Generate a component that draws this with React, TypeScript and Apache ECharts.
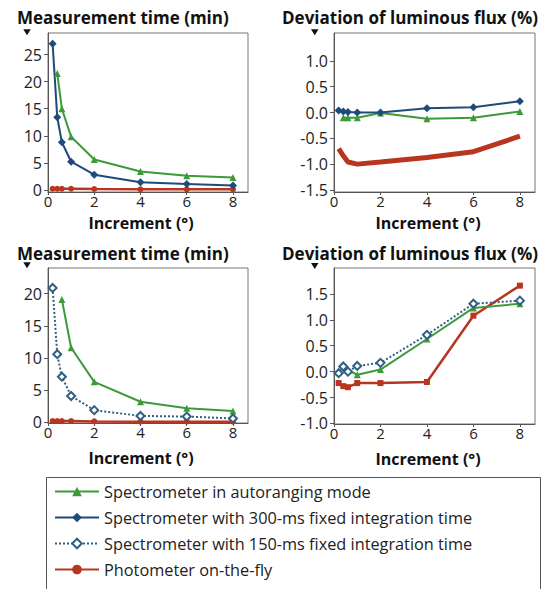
import React, { useEffect, useRef } from "react";
import * as echarts from "echarts";

// ---- data ----
const seriesNames = [
  "Spectrometer in autoranging mode",
  "Spectrometer with 300-ms fixed integration time",
  "Spectrometer with 150-ms fixed integration time",
  "Photometer on-the-fly",
];

// top-left: measurement time (min)
const tlAuto = [[0.4, 21.5], [0.6, 15.0], [1, 9.8], [2, 5.6], [4, 3.4], [6, 2.6], [8, 2.3]];
const tl300 = [[0.2, 27.0], [0.4, 13.4], [0.6, 8.8], [1, 5.2], [2, 2.8], [4, 1.4], [6, 1.1], [8, 0.8]];
const tlPhoto = [[0.2, 0.2], [0.4, 0.2], [0.6, 0.2], [1, 0.2], [2, 0.15], [4, 0.1], [6, 0.1], [8, 0.1]];

// top-right: deviation of luminous flux (%)
const trAuto = [[0.4, -0.1], [0.6, -0.1], [1, -0.1], [2, -0.01], [4, -0.12], [6, -0.1], [8, 0.02]];
const tr300 = [[0.2, 0.04], [0.4, 0.02], [0.6, 0.01], [1, 0.0], [2, 0.0], [4, 0.08], [6, 0.1], [8, 0.22]];
const trPhoto = [[0.2, -0.7], [0.4, -0.84], [0.6, -0.96], [1, -1.0], [2, -0.96], [4, -0.87], [6, -0.76], [8, -0.46]];

// bottom-left: measurement time (min)
const blAuto = [[0.6, 19.1], [1, 11.6], [2, 6.3], [4, 3.2], [6, 2.2], [8, 1.75]];
const bl150 = [[0.2, 20.9], [0.4, 10.6], [0.6, 7.1], [1, 4.1], [2, 1.9], [4, 1.0], [6, 0.9], [8, 0.6]];
const blPhoto = [[0.2, 0.2], [0.4, 0.2], [0.6, 0.2], [1, 0.2], [2, 0.15], [4, 0.1], [6, 0.1], [8, 0.1]];

// bottom-right: deviation of luminous flux (%)
const brAuto = [[0.6, 0.03], [1, -0.06], [2, 0.04], [4, 0.63], [6, 1.23], [8, 1.31]];
const br150 = [[0.2, -0.03], [0.4, 0.1], [0.6, 0.0], [1, 0.11], [2, 0.17], [4, 0.71], [6, 1.31], [8, 1.37]];
const brPhoto = [[0.2, -0.22], [0.4, -0.28], [0.6, -0.3], [1, -0.22], [2, -0.22], [4, -0.2], [6, 1.08], [8, 1.66]];

// tick labels
const xTicks = [0, 2, 4, 6, 8];
const timeTicksTop = [0, 5, 10, 15, 20, 25];
const devTicksTop = [-1.5, -1.0, -0.5, 0.0, 0.5, 1.0];
const timeTicksBottom = [0, 5, 10, 15, 20];
const devTicksBottom = [-1.0, -0.5, 0.0, 0.5, 1.0, 1.5];

const yTitleTime = "Measurement time (min)";
const yTitleDev = "Deviation of luminous flux (%)";
const xTitle = "Increment (°)";

const FONT = "'Open Sans', 'Noto Sans', sans-serif";
const GREEN = "#3d9a3a";
const BLUE = "#1f4b7a";
const DOT = "#2f5f82";
const RED = "#b8361f";
const AXIS = "#555";

export default function App() {
  const ref = useRef<HTMLDivElement>(null);
  useEffect(() => {
    if (!ref.current) return;
    const chart = echarts.init(ref.current, null, { renderer: "svg" });

    const grids = [
      { left: 48, top: 33, width: 200, height: 159 },
      { left: 334, top: 33, width: 201, height: 159 },
      { left: 48, top: 268, width: 200, height: 155 },
      { left: 334, top: 268, width: 201, height: 156 },
    ].map((g) => ({ ...g, show: true, borderColor: "#777", borderWidth: 1, backgroundColor: "transparent" }));

    const xAxis = [0, 1, 2, 3].map((i) => ({
      type: "value",
      gridIndex: i,
      min: 0,
      max: 8.65,
      axisLine: { show: true, onZero: false, lineStyle: { color: AXIS, width: 1 } },
      axisTick: { show: true, customValues: xTicks, length: 3, lineStyle: { color: AXIS } },
      axisLabel: {
        customValues: xTicks,
        fontSize: 15,
        color: "#222",
        fontFamily: FONT,
        margin: 1,
        lineHeight: 15,
        formatter: (v: number) => String(v),
      },
      splitLine: { show: false },
    }));

    const yDefs = [
      { min: -0.4, max: 29, ticks: timeTicksTop, dec: 0 },
      { min: -1.54, max: 1.54, ticks: devTicksTop, dec: 1 },
      { min: -0.1, max: 24, ticks: timeTicksBottom, dec: 0 },
      { min: -1.01, max: 2.0, ticks: devTicksBottom, dec: 1 },
    ];
    const yAxis = yDefs.map((d, i) => ({
      type: "value",
      gridIndex: i,
      min: d.min,
      max: d.max,
      axisLine: { show: true, onZero: false, lineStyle: { color: AXIS, width: 1 } },
      axisTick: { show: true, customValues: d.ticks, length: 4, lineStyle: { color: AXIS } },
      axisLabel: {
        customValues: d.ticks,
        fontSize: 16,
        color: "#222",
        fontFamily: FONT,
        margin: 6,
        formatter: (v: number) => v.toFixed(d.dec),
      },
      splitLine: { show: false },
    }));

    const mk = (name: string, idx: number, data: number[][], kind: string, extra: any = {}) => {
      const base: any = {
        name,
        type: "line",
        xAxisIndex: idx,
        yAxisIndex: idx,
        data,
        smooth: false,
        z: 3,
      };
      if (kind === "auto") {
        Object.assign(base, {
          color: GREEN,
          symbol: "triangle",
          symbolSize: 7,
          lineStyle: { color: GREEN, width: 2 },
          itemStyle: { color: GREEN },
        });
      } else if (kind === "300") {
        Object.assign(base, {
          color: BLUE,
          symbol: "diamond",
          symbolSize: 8,
          lineStyle: { color: BLUE, width: 2 },
          itemStyle: { color: BLUE },
        });
      } else if (kind === "150") {
        Object.assign(base, {
          color: DOT,
          symbol: "emptyDiamond",
          symbolSize: 8,
          lineStyle: { color: DOT, width: 2, type: "dotted" },
          itemStyle: { color: DOT, borderWidth: 1.5 },
        });
      } else {
        Object.assign(base, {
          color: RED,
          symbol: "circle",
          symbolSize: 6,
          lineStyle: { color: RED, width: 2.5 },
          itemStyle: { color: RED },
        });
      }
      return Object.assign(base, extra);
    };

    const series = [
      mk(seriesNames[3], 0, tlPhoto, "photo"),
      mk(seriesNames[0], 0, tlAuto, "auto"),
      mk(seriesNames[1], 0, tl300, "300"),
      mk(seriesNames[3], 1, trPhoto, "photo", { symbol: "none", lineStyle: { color: RED, width: 5 } }),
      mk(seriesNames[0], 1, trAuto, "auto"),
      mk(seriesNames[1], 1, tr300, "300"),
      mk(seriesNames[3], 2, blPhoto, "photo"),
      mk(seriesNames[0], 2, blAuto, "auto"),
      mk(seriesNames[2], 2, bl150, "150"),
      mk(seriesNames[3], 3, brPhoto, "photo", { symbol: "rect", symbolSize: 6 }),
      mk(seriesNames[0], 3, brAuto, "auto"),
      mk(seriesNames[2], 3, br150, "150"),
    ];

    const title = (x: number, y: number, text: string) => ({
      type: "text",
      x,
      y,
      style: {
        text,
        font: `bold 17px ${FONT}`,
        fill: "#111",
        textAlign: "left",
        textVerticalAlign: "middle",
      },
    });
    const xName = (cx: number, y: number) => ({
      type: "text",
      x: cx,
      y,
      style: {
        text: xTitle,
        font: `bold 16px ${FONT}`,
        fill: "#111",
        textAlign: "center",
        textVerticalAlign: "middle",
      },
    });
    const tri = (x: number, y: number) => ({
      type: "polygon",
      shape: { points: [[x, y], [x + 7.5, y], [x + 3.75, y + 6]] },
      style: { fill: "#111" },
    });

    const graphic = [
      title(17, 17, yTitleTime),
      title(282, 17, yTitleDev),
      title(17, 253, yTitleTime),
      title(282, 253, yTitleDev),
      tri(23.3, 29.3),
      tri(311, 29.3),
      tri(23.3, 262.3),
      tri(311, 263),
      xName(141, 222.5),
      xName(428, 222.5),
      xName(141, 458),
      xName(428, 458.5),
      {
        type: "rect",
        shape: { x: 46.5, y: 477.5, width: 494, height: 130 },
        style: { fill: "none", stroke: "#555", lineWidth: 1 },
      },
    ];

    chart.setOption({
      animation: false,
      backgroundColor: "#ffffff",
      textStyle: { fontFamily: FONT },
      grid: grids,
      xAxis,
      yAxis,
      series,
      graphic,
      legend: {
        data: seriesNames,
        orient: "vertical",
        left: 49,
        top: 478,
        itemWidth: 44,
        itemHeight: 12,
        itemGap: 9,
        selectedMode: false,
        textStyle: { fontSize: 16.3, color: "#222", fontFamily: FONT, lineHeight: 17 },
      },
    });
    return () => chart.dispose();
  }, []);

  return (
    <div
      ref={ref}
      style={{ position: "absolute", left: 0, top: 0, width: 556, height: 589, background: "#fff" }}
    />
  );
}
